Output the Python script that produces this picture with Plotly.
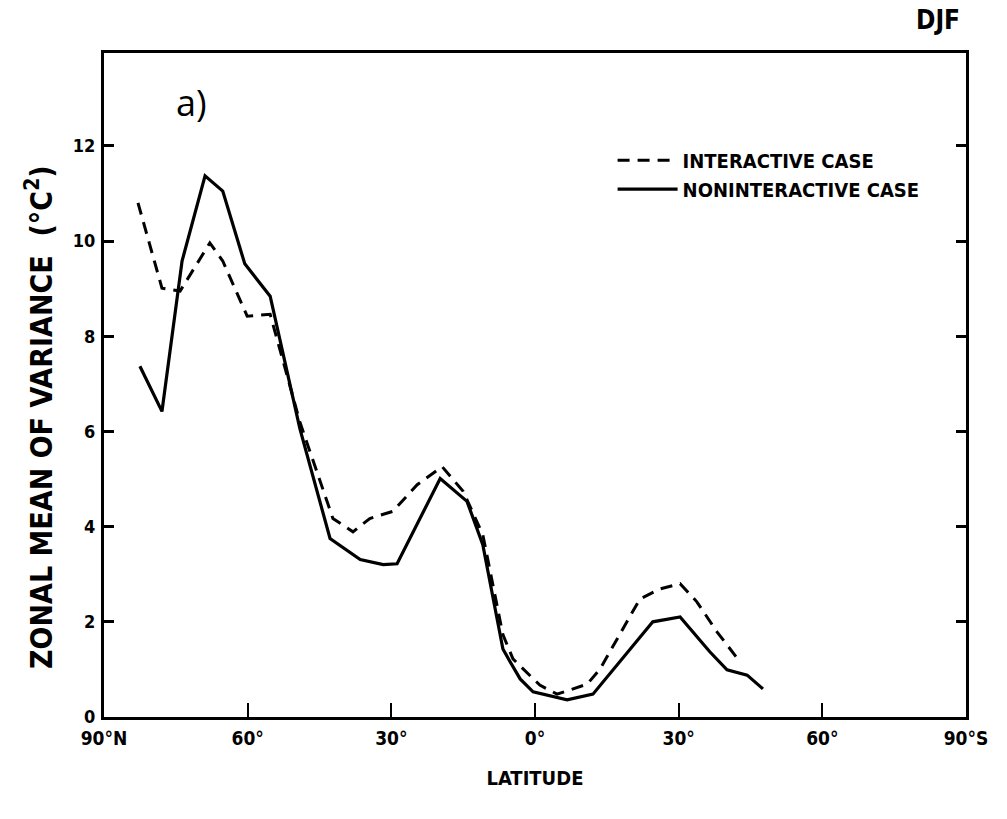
import plotly.graph_objects as go

# Latitude in degrees (north positive, south negative)
lat_nonint = [82.5, 77.9, 73.7, 68.9, 65.2, 60.6, 55.3, 49.1, 42.8, 36.5, 31.7, 28.8,
              19.8, 14.2, 10.9, 6.7, 5.2, 3.1, 0.4, -6.7, -12.1, -17.7, -24.6, -30.3,
              -36.5, -40.1, -44.3, -47.6]
var_nonint = [7.37, 6.42, 9.58, 11.37, 11.05, 9.52, 8.84, 6.06, 3.75, 3.31, 3.2, 3.22,
              5.01, 4.53, 3.62, 1.43, 1.16, 0.8, 0.53, 0.36, 0.48, 1.16, 2.0, 2.1,
              1.37, 0.99, 0.88, 0.59]

lat_inter = [82.9, 77.9, 74.1, 67.9, 65.2, 60.1, 55.3, 49.1, 47.0, 42.2, 38.0, 34.5,
             29.7, 24.6, 19.4, 15.0, 10.9, 6.7, 4.6, -1.0, -4.6, -10.9, -13.6, -17.7,
             -21.9, -26.1, -30.3, -33.8, -38.0, -42.8]
var_inter = [10.8, 9.01, 8.95, 9.96, 9.58, 8.42, 8.46, 6.2, 5.58, 4.17, 3.89, 4.17,
             4.32, 4.88, 5.26, 4.74, 3.83, 1.73, 1.22, 0.67, 0.48, 0.69, 1.01, 1.73,
             2.48, 2.69, 2.8, 2.42, 1.79, 1.16]

x_tickvals = [90, 60, 30, 0, -30, -60, -90]
x_ticktext = ["90°N", "60°", "30°", "0°", "30°", "60°", "90°S"]
y_tickvals = [0, 2, 4, 6, 8, 10, 12]

FONT = "DejaVu Sans Condensed, Liberation Sans Narrow, DejaVu Sans, sans-serif"

fig = go.Figure()
fig.add_trace(go.Scatter(x=lat_inter, y=var_inter, mode="lines",
                         name="<b>INTERACTIVE CASE</b>",
                         line=dict(color="black", width=3, dash="12px,8px")))
fig.add_trace(go.Scatter(x=lat_nonint, y=var_nonint, mode="lines",
                         name="<b>NONINTERACTIVE CASE</b>",
                         line=dict(color="black", width=3.2)))

fig.update_layout(
    width=1007, height=819,
    margin=dict(l=104, r=41, t=53, b=102),
    paper_bgcolor="white", plot_bgcolor="white",
    font=dict(family=FONT, color="black", size=16),
    showlegend=True,
    legend=dict(x=0.59, y=0.868, xanchor="left", yanchor="top",
                bgcolor="rgba(0,0,0,0)", itemwidth=60,
                font=dict(family=FONT, size=20, color="black"),
                tracegroupgap=0),
    xaxis=dict(range=[90, -90], tickvals=x_tickvals, ticktext=x_ticktext,
               ticks="inside", ticklen=14, tickwidth=2, tickcolor="black",
               showline=True, linewidth=3, linecolor="black", mirror=True,
               showgrid=False, zeroline=False, ticklabelstandoff=2,
               tickfont=dict(family=FONT, size=19, weight="bold"),
               title=dict(text="<b>LATITUDE</b>", font=dict(family=FONT, size=20),
                          standoff=24)),
    yaxis=dict(range=[0, 13.95], tickvals=y_tickvals,
               ticks="inside", ticklen=10, tickwidth=2.5, tickcolor="black",
               showline=True, linewidth=3, linecolor="black", mirror="ticks",
               showgrid=False, zeroline=False, ticklabelstandoff=2,
               tickfont=dict(family=FONT, size=18, weight="bold")),
)

fig.add_annotation(text="<b>ZONAL MEAN OF VARIANCE  (°C<sup>2</sup>)</b>",
                   xref="paper", yref="paper", x=-0.074, y=0.452, textangle=-90,
                   xanchor="center", yanchor="middle", showarrow=False,
                   font=dict(family=FONT, size=30, color="black"))
fig.add_annotation(text="a)", xref="paper", yref="paper", x=0.081, y=0.925,
                   xanchor="left", yanchor="middle", showarrow=False,
                   font=dict(family="Open Sans, Noto Sans, sans-serif", size=36, color="black"))
fig.add_annotation(text="<b>DJF</b>", xref="paper", yref="paper", x=0.995, y=1.05,
                   xanchor="right", yanchor="middle", showarrow=False,
                   font=dict(family=FONT, size=26, color="black"))

fig.write_html("out.html")
